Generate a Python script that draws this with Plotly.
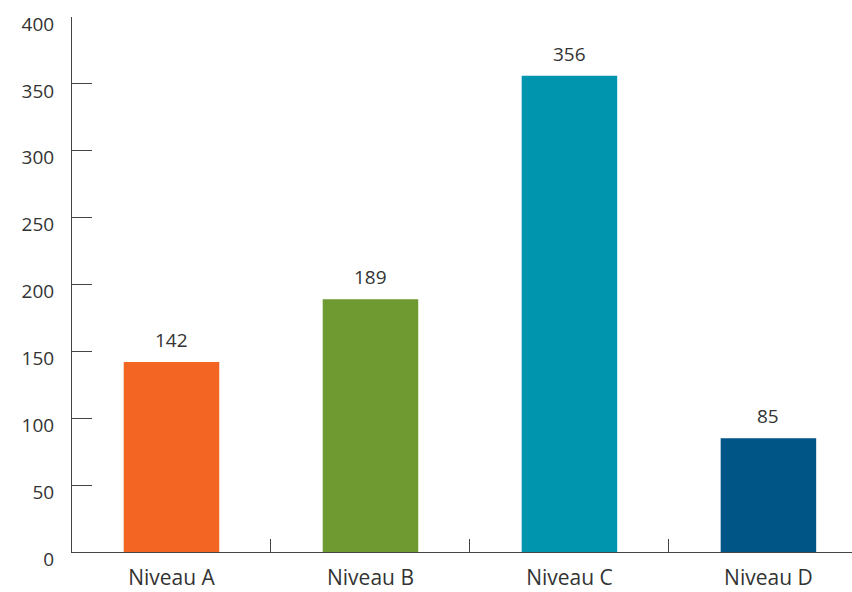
import plotly.graph_objects as go

categories = ["Niveau A", "Niveau B", "Niveau C", "Niveau D"]
values = [142, 189, 356, 85]
colors = ["#F26522", "#6F9A31", "#0095AF", "#005587"]
y_ticks = [0, 50, 100, 150, 200, 250, 300, 350, 400]

fig = go.Figure()
fig.add_trace(go.Bar(
    x=categories,
    y=values,
    marker=dict(color=colors, line=dict(width=0)),
    width=0.48,
    hoverinfo="skip",
))

# value labels above each bar
for cat, val in zip(categories, values):
    fig.add_annotation(
        x=cat, y=val, text=str(val),
        showarrow=False, yanchor="bottom", yshift=7,
        font=dict(family="Open Sans, sans-serif", size=19, color="#333333"),
    )

fig.update_layout(
    width=852, height=592,
    margin=dict(l=72, r=0, t=17, b=40),
    plot_bgcolor="white", paper_bgcolor="white",
    showlegend=False,
    font=dict(family="Open Sans, sans-serif", size=19, color="#333333"),
    bargap=0.52,
)
fig.update_xaxes(
    type="category",
    range=[-0.5, 3.42],
    automargin=False,
    showline=True, linecolor="#444444", linewidth=1,
    ticks="inside", tickson="boundaries", ticklen=13, tickcolor="#444444",
    showgrid=False, zeroline=False,
    ticklabelstandoff=7,
    tickfont=dict(size=21, color="#333333"),
)
fig.update_yaxes(
    range=[0, 400],
    tickvals=y_ticks,
    automargin=False,
    showline=True, linecolor="#444444", linewidth=1,
    ticks="inside", ticklen=20, tickcolor="#444444",
    showgrid=False, zeroline=False,
    ticklabelstandoff=13,
    ticklabelshift=7,
    tickfont=dict(size=19, color="#333333"),
)

fig.write_html("out.html")
